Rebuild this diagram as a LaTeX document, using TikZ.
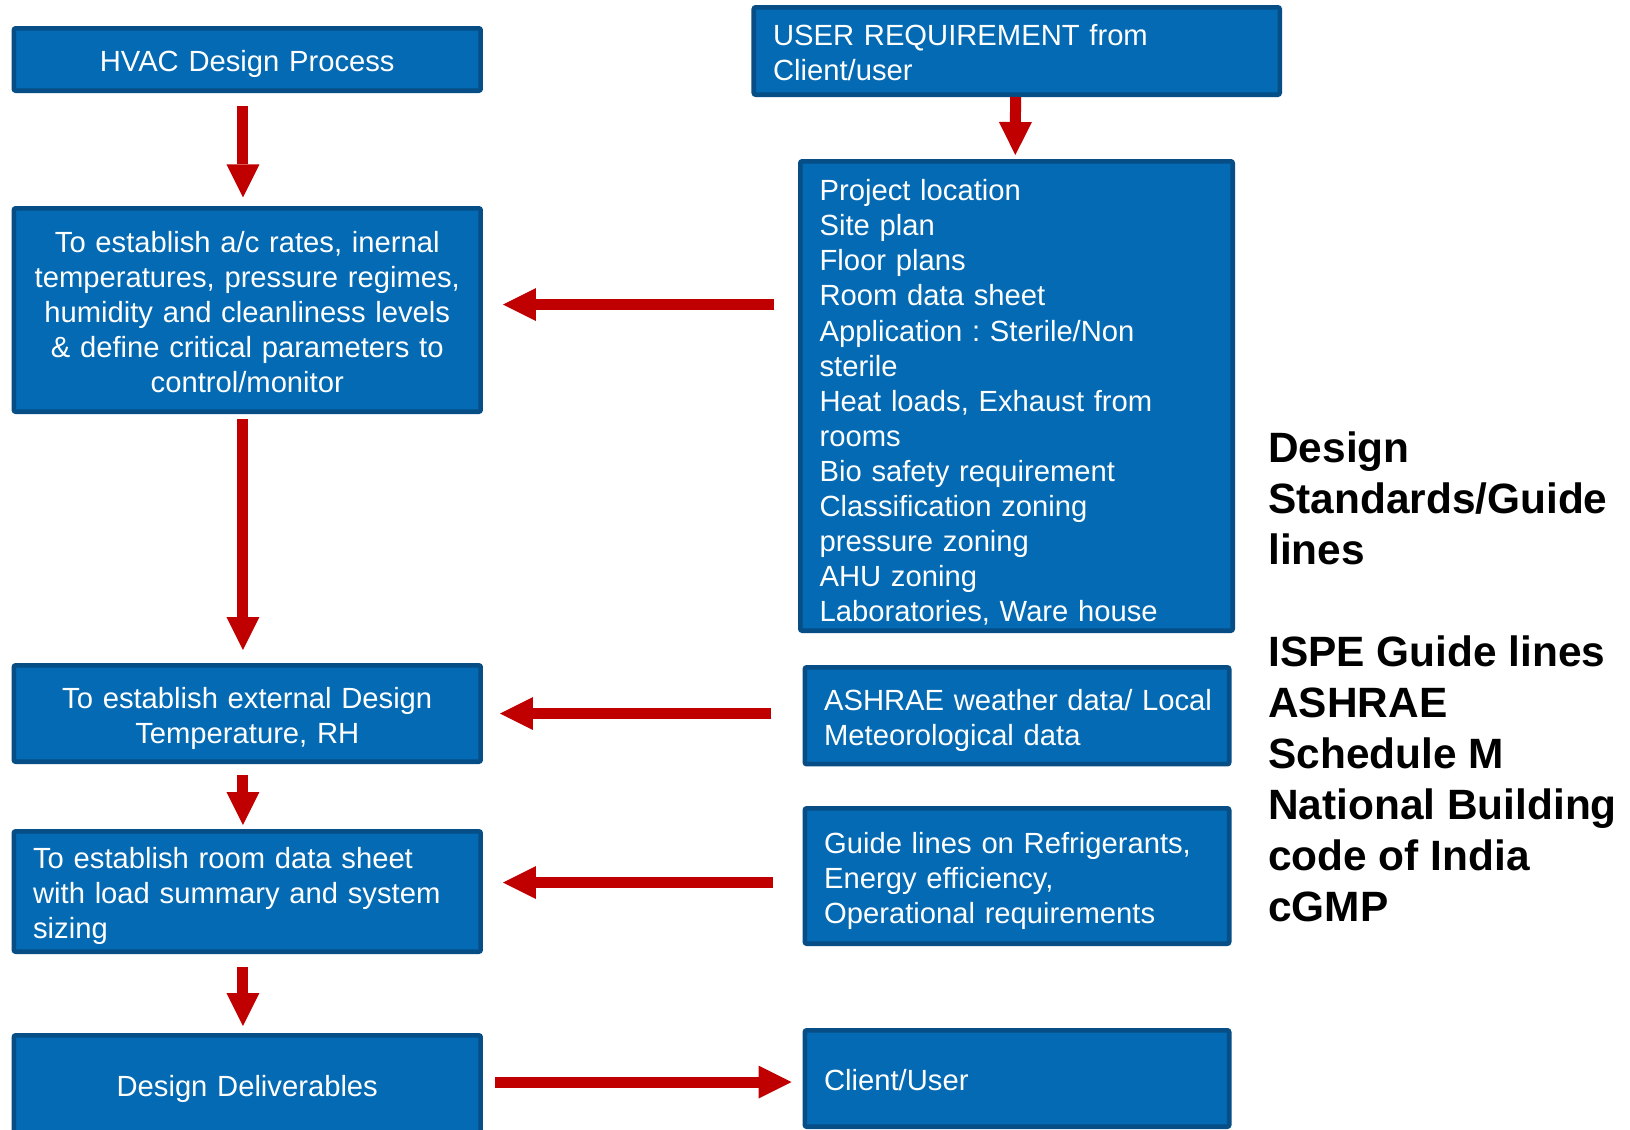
\documentclass[tikz,border=0pt]{standalone}
\usepackage{fontspec}
\setmainfont{Liberation Sans}
\usetikzlibrary{arrows.meta,calc}
\frenchspacing

\definecolor{boxfill}{RGB}{3,106,179}
\definecolor{boxline}{RGB}{6,78,133}
\definecolor{flowred}{RGB}{192,0,0}

\newcommand{\boxfont}{\fontsize{21.9pt}{26.3pt}\selectfont}
\newcommand{\sidefont}{\fontsize{31.8pt}{38.25pt}\selectfont\bfseries}
% invisible struts that give the first and last line the room of a slide text frame
\newcommand{\firststrut}{\rule[-0.212em]{0pt}{\boxstruttop}}
\newcommand{\laststrut}{\rule[-0.212em]{0pt}{1em}}

\tikzset{
  strut top/.store in=\boxstruttop, strut top=1.27em,
  box/.style={draw=boxline, fill=boxfill, line width=3.4pt, rounded corners=1.5pt,
    text=white, font=\boxfont, inner xsep=14.5pt, inner ysep=0pt,
    execute at begin node=\firststrut, execute at end node=\laststrut},
  leftcol/.style={box, minimum width=350.2pt, text width=321.2pt},
  rightcol/.style={box, minimum width=318.35pt, text width=289.35pt, align=left},
  flow/.style={draw=flowred, line width=8.25pt,
    -{Triangle[width=24.75pt,length=24.75pt,line width=0pt]}},
}

\begin{document}
\begin{tikzpicture}[x=0.75pt,y=-0.75pt]
\clip (0,0) rectangle (1630,1129);
\fill[white] (0,0) rectangle (1630,1129);

% process column
\node[leftcol, align=center, minimum height=46.85pt] (hvac) at (247.25,59.5) {HVAC Design Process};
\node[leftcol, align=center, minimum height=152.6pt] (est1) at (247.25,310)
  {To establish a/c rates, inernal\\ temperatures, pressure regimes,\\ humidity and cleanliness levels\\ \& define critical parameters to\\ control/monitor};
\node[leftcol, align=center, minimum height=72.35pt] (est2) at (247.25,713.5)
  {To establish external Design\\ Temperature, RH};
\node[leftcol, align=left, minimum height=90.35pt] (est3) at (247.25,891.5)
  {To establish room data sheet\\ with load summary and system\\ sizing};
\node[leftcol, align=center, minimum height=73.1pt] (deliv) at (247.25,1084) {Design Deliverables};

% inputs column
\node[box, minimum width=394.5pt, text width=365.5pt, align=left, minimum height=65.6pt] (user) at (1016.75,51)
  {USER REQUIREMENT from\\ Client/user};
\node[box, strut top=1.46em, minimum width=324.35pt, text width=295.35pt, align=left, minimum height=352.1pt] (proj) at (1016.5,396)
  {Project location\\ Site plan\\ Floor plans\\ Room data sheet\\ Application : Sterile/Non\\ sterile\\
   Heat loads, Exhaust from\\ rooms\\ Bio safety requirement\\ Classification zoning\\ pressure zoning\\
   AHU zoning\\ Laboratories, Ware house};
\node[rightcol, minimum height=72.7pt] (ashrae) at (1017,715.75)
  {\mbox{ASHRAE weather data/ Local}\\ Meteorological data};
\node[rightcol, minimum height=101.6pt] (guide) at (1017,876)
  {Guide lines on Refrigerants,\\ Energy efficiency,\\ Operational requirements};
\node[rightcol, minimum height=72.35pt] (client) at (1017,1078.5) {Client/User};

% standards list
\node[font=\sidefont, align=left, anchor=north west, inner sep=0pt] (stds) at (1268,431)
  {Design\\ Standards/Guide\\ lines\\[38.25pt] ISPE Guide lines\\ ASHRAE\\ Schedule M\\
   National Building\\ code of India\\ cGMP};

% flow arrows
\draw[flow] ([xshift=-3.2pt,yshift=-9.75pt]hvac.south) -- ([xshift=-3.2pt,yshift=6.4pt]est1.north);
\draw[flow] ([xshift=-3.2pt,yshift=-3.75pt]est1.south) -- ([xshift=-3.2pt,yshift=9.75pt]est2.north);
\draw[flow] ([xshift=-3.2pt,yshift=-8.25pt]est2.south) -- ([xshift=-3.2pt,yshift=3pt]est3.north);
\draw[flow] ([xshift=-3.2pt,yshift=-9.75pt]est3.south) -- ([xshift=-3.2pt,yshift=5.25pt]deliv.north);
\draw[flow] ([xshift=-0.9pt]user.south) -- ([xshift=-0.9pt,yshift=3pt]proj.north);

\draw[flow] ($(est1.east -| proj.west)+(-17.7pt,4.1pt)$) -- ($(est1.east)+(15pt,4.1pt)$);
\draw[flow] ($(est2.east -| ashrae.west)+(-23.6pt,0pt)$) -- ($(est2.east)+(12.75pt,0pt)$);
\draw[flow] ($(est3.east -| guide.west)+(-22.1pt,6.75pt)$) -- ($(est3.east)+(15pt,6.75pt)$);
\draw[flow] ($(deliv.east)+(9pt,1.5pt)$) -- ($(deliv.east -| client.west)+(-8.25pt,1.5pt)$);
\end{tikzpicture}
\end{document}
